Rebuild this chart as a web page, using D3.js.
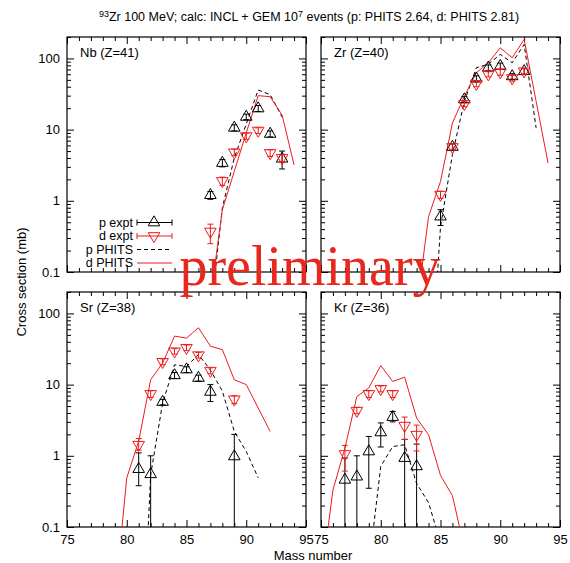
<!DOCTYPE html>
<html><head><meta charset="utf-8">
<script src="https://cdn.jsdelivr.net/npm/d3@7"></script>
<style>body{margin:0;background:#fff}svg{display:block}</style>
</head><body>
<svg id="c" width="570" height="563"></svg>
<script>
// ---------- data ----------
const xTicks = [75, 80, 85, 90, 95];
const yTicks = [0.1, 1, 10, 100];
const yTickLabels = ["0.1", "1", "10", "100"];
const panelNames = ["Nb (Z=41)", "Zr (Z=40)", "Sr (Z=38)", "Kr (Z=36)"];
const legendLabels = ["p expt", "d expt", "p PHITS", "d PHITS"];

// Nb (Z=41)
const nbExpA = [87, 88, 89, 90, 91, 92, 93];
const nbPExp = [1.2, 3.4, 10.6, 15.1, 19.8, 8.7, 3.9];
const nbPLo  = [1.05, 3.0, 9.6, 13.8, 18.0, 7.9, 2.8];
const nbPHi  = [1.35, 3.8, 11.7, 16.5, 21.8, 9.6, 5.0];
const nbDExp = [0.37, 1.9, 4.8, 8.1, 9.7, 4.7, 4.0];
const nbDLo  = [0.25, 1.65, 4.3, 7.3, 8.8, 4.2, 3.5];
const nbDHi  = [0.47, 2.15, 5.3, 8.9, 10.6, 5.2, 4.5];
const nbPhitsPA = [87, 88, 89, 90, 91, 92, 93];
const nbPhitsP  = [0.025, 0.8, 4.0, 12, 36, 31, 15];
const nbPhitsDA = [87, 88, 89, 90, 91, 92, 93, 94];
const nbPhitsD  = [0.042, 0.75, 2.6, 9.0, 30, 29, 16, 3.2];

// Zr (Z=40)
const zrExpA = [85, 86, 87, 88, 89, 90, 91, 92];
const zrPExp = [0.6, 5.7, 26.5, 52, 74, 78, 56, 66];
const zrPLo  = [0.45, 5.1, 24, 47, 67, 70, 51, 60];
const zrPHi  = [0.75, 6.3, 29, 57, 81, 86, 61, 72];
const zrDExp = [1.22, 5.7, 23, 44, 60, 64, 53, 66];
const zrDLo  = [1.08, 5.2, 21, 40, 55, 58, 48, 60];
const zrDHi  = [1.36, 6.2, 25, 48, 65, 70, 58, 72];
const zrPhitsPA = [84, 85, 86, 87, 88, 89, 90, 91, 92, 93];
const zrPhitsP  = [0.001, 0.43, 4.5, 25, 74, 83, 114, 87, 157, 10.6];
const zrPhitsDA = [83, 84, 85, 86, 87, 88, 89, 90, 91, 92, 93, 94];
const zrPhitsD  = [0.03, 0.6, 1.87, 12.4, 29.5, 63, 87, 141, 102, 185, 25, 3.4];

// Sr (Z=38)
const srExpA = [81, 82, 83, 84, 85, 86, 87, 89];
const srPExp = [0.65, 0.55, 5.7, 13.5, 16.3, 12.4, 7.9, 0.98];
const srPLo  = [0.38, 0.001, 5.2, 12.2, 14.8, 11.2, 5.8, 0.001];
const srPHi  = [1.1, 1.0, 6.2, 14.8, 17.8, 13.6, 10.0, 2.0];
const srDExp = [1.43, 7.4, 20.9, 29.4, 32.9, 25.9, 15.7, 6.2];
const srDLo  = [1.2, 6.6, 19, 26.8, 30, 23.6, 14.2, 5.4];
const srDHi  = [1.75, 8.2, 23, 32, 36, 28.4, 17.2, 7.0];
const srPhitsPA = [81, 82, 83, 84, 85, 86, 87, 88, 89, 90, 91];
const srPhitsP  = [0.00012, 0.54, 5.5, 19, 18, 26.5, 16, 8.1, 2.2, 1.15, 0.49];
const srPhitsDA = [79, 80, 81, 82, 83, 84, 85, 86, 87, 88, 89, 90, 91, 92];
const srPhitsD  = [0.009, 0.49, 1.6, 11.7, 20, 48, 45, 63, 34.7, 31, 11.7, 10, 4.7, 2.2];

// Kr (Z=36)
const krExpA = [77, 78, 79, 80, 81, 82, 83];
const krPExp = [0.46, 0.51, 1.15, 2.13, 3.5, 0.93, 0.71];
const krPLo  = [0.001, 0.001, 0.35, 1.33, 3.0, 0.001, 0.001];
const krPHi  = [0.93, 1.0, 1.87, 2.9, 4.2, 1.7, 1.46];
const krDExp = [1.06, 4.3, 7.4, 8.7, 7.4, 2.65, 1.98];
const krDLo  = [0.61, 3.9, 6.6, 7.9, 6.6, 1.7, 1.17];
const krDHi  = [1.4, 4.8, 8.2, 9.6, 8.2, 3.5, 2.7];
const krPhitsPA = [79, 80, 81, 82, 83, 84, 85];
const krPhitsP  = [0.027, 0.71, 1.35, 1.43, 0.41, 0.22, 0.06];
const krPhitsDA = [75, 76, 77, 78, 79, 80, 81, 82, 83, 84, 85, 86, 87];
const krPhitsD  = [0.017, 0.33, 1.28, 6.8, 9.0, 18.5, 11.1, 12.7, 3.4, 1.98, 0.53, 0.275, 0.05];

// ---------- build ----------
const zip = (A, v, lo, hi) => A.map((a, i) => ({a, v: v[i], lo: lo ? lo[i] : null, hi: hi ? hi[i] : null}));
const panels = [
  {name: panelNames[0], pExp: zip(nbExpA, nbPExp, nbPLo, nbPHi), dExp: zip(nbExpA, nbDExp, nbDLo, nbDHi),
   pPhits: zip(nbPhitsPA, nbPhitsP), dPhits: zip(nbPhitsDA, nbPhitsD)},
  {name: panelNames[1], pExp: zip(zrExpA, zrPExp, zrPLo, zrPHi), dExp: zip(zrExpA, zrDExp, zrDLo, zrDHi),
   pPhits: zip(zrPhitsPA, zrPhitsP), dPhits: zip(zrPhitsDA, zrPhitsD)},
  {name: panelNames[2], pExp: zip(srExpA, srPExp, srPLo, srPHi), dExp: zip(srExpA, srDExp, srDLo, srDHi),
   pPhits: zip(srPhitsPA, srPhitsP), dPhits: zip(srPhitsDA, srPhitsD)},
  {name: panelNames[3], pExp: zip(krExpA, krPExp, krPLo, krPHi), dExp: zip(krExpA, krDExp, krDLo, krDHi),
   pPhits: zip(krPhitsPA, krPhitsP), dPhits: zip(krPhitsDA, krPhitsD)}
];

const layout = [
  {x0: 67, x1: 306, y0: 37, y1: 272},
  {x0: 321, x1: 560, y0: 37, y1: 272},
  {x0: 67, x1: 306, y0: 292, y1: 527},
  {x0: 321, x1: 560, y0: 292, y1: 527}
];

const RED = "#f01a1a", BLK = "#000";
const FONT = "'Liberation Sans', Arial, Helvetica, sans-serif";
const svg = d3.select("#c").style("font-family", FONT);
svg.append("rect").attr("width", 570).attr("height", 563).attr("fill", "#fff");

const minorX = d3.range(75, 96).filter(v => v % 5 !== 0);
const minorY = [];
[0.1, 1, 10, 100].forEach(d => { for (let k = 2; k <= 9; k++) { const v = d * k; if (v <= 200) minorY.push(v); } });

const triUp = d3.symbol(d3.symbolTriangle, 58)();

panels.forEach((p, i) => {
  const L = layout[i];
  const x = d3.scaleLinear().domain([75, 95]).range([L.x0, L.x1]);
  const y = d3.scaleLog().domain([0.1, 200]).range([L.y1, L.y0]);
  const g = svg.append("g");
  const clipId = "clip" + i;
  svg.append("clipPath").attr("id", clipId).append("rect")
    .attr("x", L.x0).attr("y", L.y0).attr("width", L.x1 - L.x0).attr("height", L.y1 - L.y0);

  const showXLab = i >= 2, showYLab = i % 2 === 0;
  const mk = (axisFn, scale, vals, size, labels, pos, tf) => {
    const a = axisFn(scale).tickValues(vals).tickSize(-size).tickPadding(tf ? tf.pad : 0);
    if (labels) a.tickFormat(labels); else a.tickFormat("");
    const ag = g.append("g").attr("transform", pos).call(a);
    ag.select(".domain").remove();
    ag.selectAll("line").attr("stroke", BLK).attr("stroke-width", 1);
    ag.selectAll("text").attr("font-size", 13).attr("font-family", FONT).attr("fill", BLK);
    return ag;
  };
  mk(d3.axisBottom, x, xTicks, 7, showXLab ? (d => d) : null, `translate(0,${L.y1})`, {pad: 8});
  mk(d3.axisBottom, x, minorX, 4, null, `translate(0,${L.y1})`);
  mk(d3.axisTop, x, xTicks, 7, null, `translate(0,${L.y0})`);
  mk(d3.axisTop, x, minorX, 4, null, `translate(0,${L.y0})`);
  mk(d3.axisLeft, y, yTicks, 7, showYLab ? ((d, k) => yTickLabels[k]) : null, `translate(${L.x0},0)`, {pad: 7});
  mk(d3.axisLeft, y, minorY, 4, null, `translate(${L.x0},0)`);
  mk(d3.axisRight, y, yTicks, 7, null, `translate(${L.x1},0)`);
  mk(d3.axisRight, y, minorY, 4, null, `translate(${L.x1},0)`);

  g.append("rect").attr("x", L.x0).attr("y", L.y0).attr("width", L.x1 - L.x0).attr("height", L.y1 - L.y0)
    .attr("fill", "none").attr("stroke", BLK).attr("stroke-width", 1.2);

  g.append("text").attr("x", L.x0 + 13).attr("y", L.y0 + 20).attr("font-size", 13).text(p.name);

  const plot = g.append("g").attr("clip-path", `url(#${clipId})`);
  const line = d3.line().x(d => x(d.a)).y(d => y(d.v));
  plot.append("path").datum(p.pPhits).attr("d", line).attr("fill", "none")
    .attr("stroke", BLK).attr("stroke-width", 1).attr("stroke-dasharray", "4,3");
  plot.append("path").datum(p.dPhits).attr("d", line).attr("fill", "none")
    .attr("stroke", RED).attr("stroke-width", 1);

  const drawExp = (data, color, down) => {
    const eg = plot.append("g");
    data.forEach(d => {
      const cx = x(d.a);
      const yl = y(Math.max(d.lo, 0.05)), yh = y(d.hi);
      eg.append("line").attr("x1", cx).attr("x2", cx).attr("y1", yl).attr("y2", yh)
        .attr("stroke", color).attr("stroke-width", 1);
      eg.append("line").attr("x1", cx - 3).attr("x2", cx + 3).attr("y1", yh).attr("y2", yh)
        .attr("stroke", color).attr("stroke-width", 1);
      if (d.lo >= 0.1) eg.append("line").attr("x1", cx - 3).attr("x2", cx + 3).attr("y1", yl).attr("y2", yl)
        .attr("stroke", color).attr("stroke-width", 1);
      eg.append("path").attr("d", triUp)
        .attr("transform", `translate(${cx},${y(d.v)})${down ? " rotate(180)" : ""}`)
        .attr("fill", "none").attr("stroke", color).attr("stroke-width", 1);
    });
  };
  drawExp(p.pExp, BLK, false);
  drawExp(p.dExp, RED, true);

  if (i === 0) {
    const lg = g.append("g");
    const rows = [222.5, 236, 249.5, 263];
    const lx0 = 137, lx1 = 172, lxm = 154, tx = 133;
    legendLabels.forEach((t, k) => {
      lg.append("text").attr("x", tx).attr("y", rows[k]).attr("dy", "0.34em")
        .attr("text-anchor", "end").attr("font-size", 12.5).text(t);
    });
    [[BLK, false, rows[0]], [RED, true, rows[1]]].forEach(([c, dn, ry]) => {
      lg.append("line").attr("x1", lx0).attr("x2", lx1).attr("y1", ry).attr("y2", ry).attr("stroke", c);
      lg.append("line").attr("x1", lx0).attr("x2", lx0).attr("y1", ry - 3).attr("y2", ry + 3).attr("stroke", c);
      lg.append("line").attr("x1", lx1).attr("x2", lx1).attr("y1", ry - 3).attr("y2", ry + 3).attr("stroke", c);
      lg.append("path").attr("d", triUp).attr("transform", `translate(${lxm},${ry})${dn ? " rotate(180)" : ""}`)
        .attr("fill", "none").attr("stroke", c);
    });
    lg.append("line").attr("x1", lx0).attr("x2", lx1).attr("y1", rows[2]).attr("y2", rows[2])
      .attr("stroke", BLK).attr("stroke-dasharray", "4,3");
    lg.append("line").attr("x1", lx0).attr("x2", lx1).attr("y1", rows[3]).attr("y2", rows[3])
      .attr("stroke", RED);
  }
});

// titles
const title = svg.append("text").attr("x", 309).attr("y", 21).attr("text-anchor", "middle").attr("font-size", 12.5);
title.append("tspan").attr("font-size", 9).attr("dy", "-4").text("93");
title.append("tspan").attr("dy", "4").text("Zr 100 MeV; calc: INCL + GEM 10");
title.append("tspan").attr("font-size", 9).attr("dy", "-4").text("7");
title.append("tspan").attr("dy", "4").text(" events (p: PHITS 2.64, d: PHITS 2.81)");

svg.append("text").attr("x", 313).attr("y", 560).attr("text-anchor", "middle").attr("font-size", 13).text("Mass number");
svg.append("text").attr("transform", "translate(26,282) rotate(-90)").attr("text-anchor", "middle")
  .attr("font-size", 13).text("Cross section (mb)");

svg.append("text").attr("x", 310).attr("y", 285).attr("text-anchor", "middle")
  .attr("font-family", "'Liberation Serif', 'DejaVu Serif', serif").attr("font-size", 56)
  .attr("fill", "#e8281e").text("preliminary");
</script>
</body></html>
